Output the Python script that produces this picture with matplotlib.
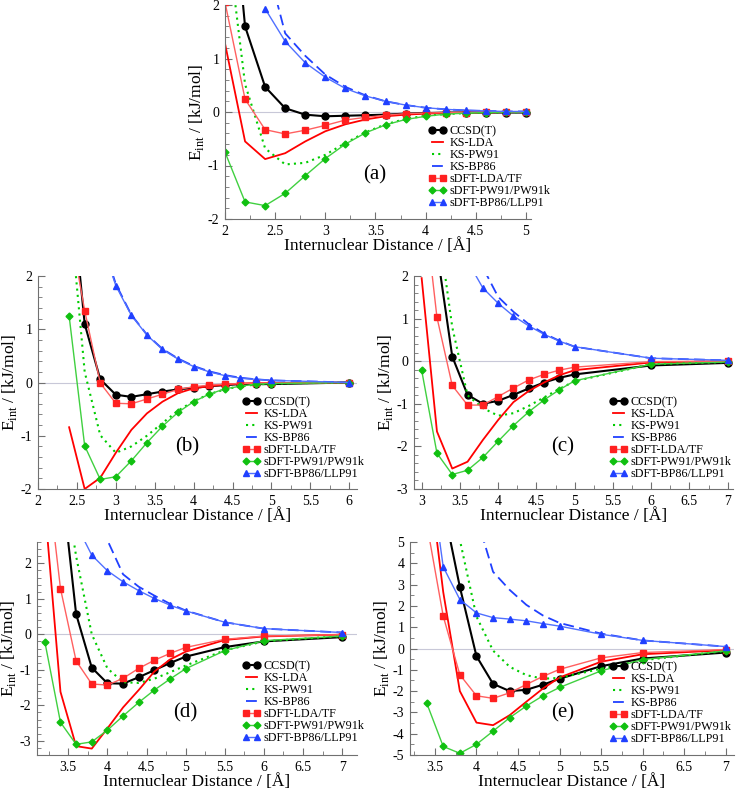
import matplotlib
matplotlib.use('Agg')
import matplotlib.pyplot as plt
from matplotlib.ticker import MultipleLocator, FuncFormatter
import numpy as np

plt.rcParams['font.family'] = ['Liberation Serif', 'DejaVu Serif']
plt.rcParams['mathtext.fontset'] = 'custom'
plt.rcParams['mathtext.rm'] = 'Liberation Serif'
plt.rcParams['axes.unicode_minus'] = False

nan = np.nan

# ---- panel (a) ----
a_x = [2.0, 2.2, 2.4, 2.6, 2.8, 3.0, 3.2, 3.4, 3.6, 3.8, 4.0, 4.2, 4.4, 4.6, 4.8, 5.0]
a_ccsd = [5.6, 1.60, 0.47, 0.07, -0.05, -0.08, -0.07, -0.06, -0.05, -0.03, -0.02, -0.01, -0.01, -0.01, -0.01, -0.01]
a_ks_lda = [1.28, -0.55, -0.88, -0.77, -0.55, -0.36, -0.23, -0.14, -0.08, -0.05, -0.03, -0.02, -0.01, -0.01, 0.0, 0.0]
a_ks_pw91 = [3.6, 0.52, -0.68, -0.98, -0.95, -0.80, -0.58, -0.38, -0.23, -0.13, -0.07, -0.04, -0.02, -0.01, -0.01, 0.0]
a_ks_bp86 = [6.5, 4.5, 2.9, 1.47, 1.05, 0.70, 0.47, 0.31, 0.20, 0.13, 0.08, 0.05, 0.03, 0.02, 0.01, 0.01]
a_sdft_lda = [2.05, 0.24, -0.33, -0.41, -0.34, -0.25, -0.15, -0.10, -0.06, -0.03, -0.02, -0.01, -0.01, 0.0, 0.0, 0.0]
a_sdft_pw91 = [-0.75, -1.68, -1.75, -1.52, -1.19, -0.87, -0.60, -0.39, -0.24, -0.14, -0.08, -0.04, -0.02, -0.01, 0.0, 0.0]
a_sdft_bp86 = [nan, nan, 1.93, 1.32, 0.92, 0.65, 0.44, 0.30, 0.20, 0.13, 0.08, 0.05, 0.03, 0.02, 0.01, 0.01]

# ---- panel (b) ----
b_x = [2.4, 2.6, 2.8, 3.0, 3.2, 3.4, 3.6, 3.8, 4.0, 4.2, 4.4, 4.6, 4.8, 5.0, 6.0]
b_ccsd = [4.1, 1.10, 0.06, -0.23, -0.27, -0.22, -0.17, -0.13, -0.10, -0.07, -0.05, -0.03, -0.03, -0.03, 0.0]
b_ks_lda = [-0.84, -2.0, -1.79, -1.32, -0.89, -0.58, -0.36, -0.20, -0.11, -0.07, -0.04, -0.02, -0.01, -0.01, 0.0]
b_ks_pw91 = [3.4, 0.2, -0.99, -1.32, -1.20, -1.00, -0.76, -0.53, -0.35, -0.22, -0.13, -0.07, -0.04, -0.02, 0.0]
b_ks_bp86 = [9.0, 5.5, 2.75, 1.85, 1.27, 0.90, 0.63, 0.45, 0.31, 0.21, 0.14, 0.09, 0.06, 0.04, 0.0]
b_sdft_lda = [3.0, 1.35, -0.01, -0.39, -0.40, -0.31, -0.22, -0.13, -0.08, -0.05, -0.03, -0.02, -0.01, -0.01, 0.0]
b_sdft_pw91 = [1.25, -1.19, -1.82, -1.77, -1.47, -1.13, -0.82, -0.56, -0.36, -0.22, -0.12, -0.07, -0.03, -0.02, 0.0]
b_sdft_bp86 = [nan, nan, 2.7, 1.82, 1.26, 0.89, 0.62, 0.44, 0.30, 0.20, 0.13, 0.08, 0.06, 0.04, 0.0]

# ---- panel (c) ----
c_x = [3.0, 3.2, 3.4, 3.6, 3.8, 4.0, 4.2, 4.4, 4.6, 4.8, 5.0, 6.0, 7.0]
c_ccsd = [6.0, 2.6, 0.11, -0.79, -1.00, -0.93, -0.79, -0.64, -0.50, -0.39, -0.31, -0.10, -0.04]
c_ks_lda = [1.95, -1.65, -2.52, -2.36, -1.85, -1.38, -0.96, -0.70, -0.50, -0.33, -0.21, -0.03, 0.0]
c_ks_pw91 = [6.0, 3.4, 0.8, -0.8, -1.10, -1.28, -1.22, -1.05, -0.85, -0.65, -0.47, -0.07, -0.02]
c_ks_bp86 = [10.0, 7.0, 5.0, 3.4, 2.2, 1.51, 1.16, 0.87, 0.65, 0.48, 0.34, 0.07, 0.02]
c_sdft_lda = [4.2, 1.03, -0.57, -1.03, -1.03, -0.83, -0.63, -0.44, -0.31, -0.21, -0.14, -0.01, 0.0]
c_sdft_pw91 = [-0.21, -2.16, -2.66, -2.56, -2.26, -1.88, -1.51, -1.19, -0.91, -0.67, -0.46, -0.07, -0.02]
c_sdft_bp86 = [nan, nan, nan, 2.35, 1.72, 1.36, 1.06, 0.83, 0.63, 0.47, 0.34, 0.07, 0.02]

# ---- panel (d) ----
d_x = [3.2, 3.4, 3.6, 3.8, 4.0, 4.2, 4.4, 4.6, 4.8, 5.0, 5.5, 6.0, 7.0]
d_ccsd = [8.0, 4.6, 0.57, -0.94, -1.38, -1.39, -1.21, -1.01, -0.81, -0.63, -0.36, -0.20, -0.08]
d_ks_lda = [3.6, -1.62, -3.15, -3.22, -2.65, -2.06, -1.57, -1.05, -0.71, -0.49, -0.16, -0.06, -0.01]
d_ks_pw91 = [7.0, 5.0, 2.2, 0.0, -0.96, -1.35, -1.37, -1.25, -1.07, -0.88, -0.45, -0.20, -0.05]
d_ks_bp86 = [12.0, 9.0, 6.5, 4.5, 2.65, 1.69, 1.34, 1.09, 0.86, 0.67, 0.34, 0.16, 0.05]
d_sdft_lda = [5.1, 1.29, -0.75, -1.40, -1.43, -1.24, -0.96, -0.73, -0.54, -0.37, -0.14, -0.05, -0.01]
d_sdft_pw91 = [-0.21, -2.48, -3.10, -3.03, -2.70, -2.30, -1.92, -1.57, -1.26, -0.97, -0.46, -0.18, -0.05]
d_sdft_bp86 = [nan, nan, 3.1, 2.23, 1.79, 1.48, 1.23, 1.01, 0.82, 0.66, 0.34, 0.16, 0.05]

# ---- panel (e) ----
e_x = [3.4, 3.6, 3.8, 4.0, 4.2, 4.4, 4.6, 4.8, 5.0, 5.5, 6.0, 7.0]
e_ccsd = [12.0, 6.7, 2.89, -0.36, -1.66, -2.00, -1.94, -1.70, -1.42, -0.83, -0.47, -0.19]
e_ks_lda = [9.0, 2.65, -2.0, -3.48, -3.60, -3.13, -2.50, -1.88, -1.36, -0.62, -0.27, -0.08]
e_ks_pw91 = [9.0, 7.0, 5.1, 1.5, -0.1, -0.86, -1.25, -1.42, -1.38, -0.95, -0.55, -0.12]
e_ks_bp86 = [15.0, 11.0, 8.0, 6.2, 3.6, 2.75, 2.05, 1.55, 1.20, 0.70, 0.38, 0.09]
e_sdft_lda = [5.9, 1.52, -1.23, -2.22, -2.34, -2.08, -1.69, -1.31, -0.98, -0.44, -0.19, -0.05]
e_sdft_pw91 = [-2.55, -4.60, -4.92, -4.50, -3.88, -3.25, -2.70, -2.22, -1.83, -1.05, -0.52, -0.11]
e_sdft_bp86 = [9.5, 3.83, 2.30, 1.67, 1.45, 1.38, 1.30, 1.17, 1.05, 0.67, 0.38, 0.09]

labels = ['CCSD(T)', 'KS-LDA', 'KS-PW91', 'KS-BP86',
          'sDFT-LDA/TF', 'sDFT-PW91/PW91k', 'sDFT-BP86/LLP91']

W, H = 737, 792
fig = plt.figure(figsize=(W / 100, H / 100), dpi=100)


def px_axes(x0, y0, x1, y1):
    return fig.add_axes([x0 / W, 1 - y1 / H, (x1 - x0) / W, (y1 - y0) / H])


def draw_panel(ax, x, ccsd, ks_lda, ks_pw91, ks_bp86, sd_lda, sd_pw91, sd_bp86,
               xlim, ylim, yminor, tag, tag_xy, leg_xy):
    x = np.array(x, dtype=float)
    ax.axhline(0, color='#c8c8d8', lw=0.8, zorder=0)
    h = []
    h += ax.plot(x, np.array(ccsd, float), color='black', lw=1.5, marker='o', ms=5)
    h += ax.plot(x, np.array(ks_lda, float), color='#ff0000', lw=1.3)
    h += ax.plot(x, np.array(ks_pw91, float), color='#00cc00', lw=1.5, ls=(0, (1, 2)))
    h += ax.plot(x, np.array(ks_bp86, float), color='#2040ff', lw=1.3, ls=(0, (6, 3)))
    h += ax.plot(x, np.array(sd_lda, float), color='#ff6060', lw=1.0,
                 marker='s', ms=5, mfc='#ff2020', mec='#ff2020')
    h += ax.plot(x, np.array(sd_pw91, float), color='#40d040', lw=1.0,
                 marker='D', ms=3.5, mfc='#10c010', mec='#10c010')
    h += ax.plot(x, np.array(sd_bp86, float), color='#5070ff', lw=1.0,
                 marker='^', ms=5, mfc='#2040ff', mec='#2040ff')

    ax.set_xlim(*xlim)
    ax.set_ylim(*ylim)
    ax.xaxis.set_major_locator(MultipleLocator(0.5))
    ax.xaxis.set_minor_locator(MultipleLocator(0.25))
    ax.yaxis.set_major_locator(MultipleLocator(1))
    ax.yaxis.set_minor_locator(MultipleLocator(yminor))
    fmt = FuncFormatter(lambda v, p: '%g' % v)
    ax.xaxis.set_major_formatter(fmt)
    ax.yaxis.set_major_formatter(fmt)
    ax.tick_params(which='both', direction='in', color='#707070', labelsize=10, pad=4)
    ax.tick_params(which='major', length=5)
    ax.tick_params(which='minor', length=3)
    for s in ['top', 'right']:
        ax.spines[s].set_visible(False)
    for s in ['left', 'bottom']:
        ax.spines[s].set_color('#707070')
    ax.set_xlabel('Internuclear Distance / [Å]', fontsize=12.5, labelpad=0)
    ax.set_ylabel(r'E$_{\mathrm{int}}$ / [kJ/mol]', fontsize=12.5, labelpad=1.5)

    fig.text(tag_xy[0] / W, 1 - tag_xy[1] / H, tag, fontsize=15,
             ha='center', va='center')
    fig.legend(h, labels, loc='upper left',
               bbox_to_anchor=(leg_xy[0] / W, 1 - leg_xy[1] / H),
               frameon=False, fontsize=8.7, numpoints=2, handlelength=1.5,
               handletextpad=0.3, labelspacing=0.0, borderpad=0,
               borderaxespad=0)


ax_a = px_axes(225, 5, 531, 219)
draw_panel(ax_a, a_x, a_ccsd, a_ks_lda, a_ks_pw91, a_ks_bp86, a_sdft_lda,
           a_sdft_pw91, a_sdft_bp86, (2, 5.05), (-2, 2), 0.2, '(a)',
           (375, 175), (428, 125))

ax_b = px_axes(38, 276, 357, 489)
draw_panel(ax_b, b_x, b_ccsd, b_ks_lda, b_ks_pw91, b_ks_bp86, b_sdft_lda,
           b_sdft_pw91, b_sdft_bp86, (2, 6.1), (-2, 2), 0.2, '(b)',
           (187, 447), (242, 396))

ax_c = px_axes(414, 276, 733, 489)
draw_panel(ax_c, c_x, c_ccsd, c_ks_lda, c_ks_pw91, c_ks_bp86, c_sdft_lda,
           c_sdft_pw91, c_sdft_bp86, (2.9, 7.07), (-3, 2), 0.2, '(c)',
           (563, 447), (609, 396))

ax_d = px_axes(37, 542, 357, 755)
draw_panel(ax_d, d_x, d_ccsd, d_ks_lda, d_ks_pw91, d_ks_bp86, d_sdft_lda,
           d_sdft_pw91, d_sdft_bp86, (3.1, 7.19), (-3.4, 2.6), 0.2, '(d)',
           (185, 713), (242, 660))

ax_e = px_axes(410, 542, 734, 755)
draw_panel(ax_e, e_x, e_ccsd, e_ks_lda, e_ks_pw91, e_ks_bp86, e_sdft_lda,
           e_sdft_pw91, e_sdft_bp86, (3.2, 7.1), (-5, 5), 0.5, '(e)',
           (563, 713), (609, 661))

fig.savefig('out.png', dpi=100, facecolor='white')
